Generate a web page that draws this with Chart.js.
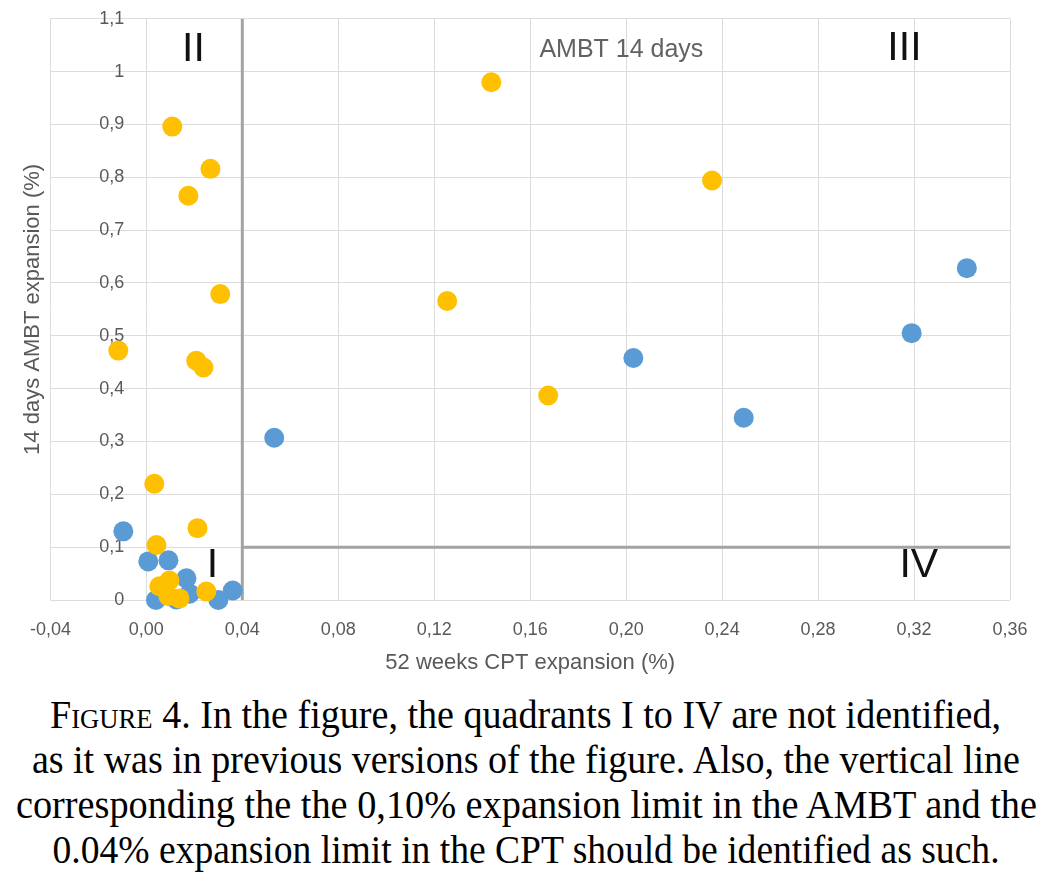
<!DOCTYPE html>
<html>
<head>
<meta charset="utf-8">
<script src="https://cdn.jsdelivr.net/npm/chart.js@4.4.1/dist/chart.umd.min.js"></script>
<style>
  body { margin: 0; background: #fff; width: 1052px; height: 891px; overflow: hidden; position: relative; }
  #wrap { position: absolute; left: 0; top: 0; width: 1052px; height: 690px; }
  #caption { position: absolute; left: 0; top: 692px; width: 1052px;
    font-family: "Liberation Serif", "Times New Roman", serif; font-size: 40px; line-height: 45px; color: #000; }
  #caption .ln { display: flex; justify-content: center; width: 1052px; white-space: nowrap; }
  #caption .ln > span { display: inline-block; flex: none; transform-origin: center; }
  .sc { font-variant: small-caps; }
</style>
</head>
<body>
<div id="wrap"><canvas id="scatterChart"></canvas></div>
<div id="caption">
  <div class="ln"><span data-w="951"><span class="sc">Figure</span> 4. In the figure, the quadrants I to IV are not identified,</span></div>
  <div class="ln"><span data-w="988">as it was in previous versions of the figure. Also, the vertical line</span></div>
  <div class="ln"><span data-w="1021">corresponding the the 0,10% expansion limit in the AMBT and the</span></div>
  <div class="ln"><span data-w="947">0.04% expansion limit in the CPT should be identified as such.</span></div>
</div>
<script>
// data
const blueX = [0.342, 0.319, 0.203, 0.249, 0.0533, -0.0096, 0.0008, 0.0092, 0.0167, 0.018, 0.030, 0.036, 0.004, 0.0125];
const blueY = [0.628, 0.505, 0.458, 0.345, 0.307, 0.130, 0.073, 0.075, 0.041, 0.012, 0.0, 0.018, 0.0, 0.001];

const yellowX = [0.1438, 0.2358, 0.0108, 0.0267, 0.0175, 0.0308, 0.1254, -0.0117, 0.0208, 0.0238, 0.1675, 0.0033, 0.0213, 0.0042, 0.0054, 0.0096, 0.0092, 0.0138, 0.025];
const yellowY = [0.980, 0.794, 0.896, 0.816, 0.765, 0.579, 0.566, 0.472, 0.453, 0.440, 0.387, 0.220, 0.136, 0.104, 0.026, 0.037, 0.007, 0.003, 0.016];

const xTicks = [-0.04, 0, 0.04, 0.08, 0.12, 0.16, 0.20, 0.24, 0.28, 0.32, 0.36];
const yTicks = [0, 0.1, 0.2, 0.3, 0.4, 0.5, 0.6, 0.7, 0.8, 0.9, 1.0, 1.1];

const cptLimit = 0.04;
const ambtLimit = 0.1;

// text inside the plot (value coordinates)
const plotTexts = [
  { text: "II", x: 0.0196, y: 1.041, font: '41px "Liberation Sans"', color: "#111" },
  { text: "III", x: 0.316, y: 1.043, font: '41px "Liberation Sans"', color: "#111" },
  { text: "IV", x: 0.322, y: 0.0656, font: '41px "Liberation Sans"', color: "#111" },
  { text: "I", x: 0.0275, y: 0.0656, font: '41px "Liberation Sans"', color: "#111" },
  { text: "AMBT 14 days", x: 0.198, y: 1.041, font: '25px "Liberation Sans"', color: "#626262" }
];

const toPoints = (xs, ys) => xs.map((x, i) => ({ x: x, y: ys[i] }));
const comma = (s) => s.replace(".", ",");

const textPlugin = {
  id: "plotTexts",
  afterDatasetsDraw(chart) {
    const ctx = chart.ctx;
    const sx = chart.scales.x, sy = chart.scales.y;
    ctx.save();
    ctx.textAlign = "center";
    ctx.textBaseline = "middle";
    plotTexts.forEach(t => {
      ctx.font = t.font;
      ctx.fillStyle = t.color;
      ctx.fillText(t.text, sx.getPixelForValue(t.x), sy.getPixelForValue(t.y));
    });
    ctx.restore();
  }
};

const tickFont = { family: "Liberation Sans", size: 18 };
const titleFont = { family: "Liberation Sans", size: 22 };
const gridColor = "#dcdcdc";
const limitColor = "#a3a3a3";

new Chart(document.getElementById("scatterChart"), {
  type: "scatter",
  data: {
    datasets: [
      {
        label: "Yellow",
        data: toPoints(yellowX, yellowY),
        backgroundColor: "#FFC000",
        borderWidth: 0,
        pointRadius: 10,
        clip: false,
        order: 1
      },
      {
        label: "Blue",
        data: toPoints(blueX, blueY),
        backgroundColor: "#5B9BD5",
        borderWidth: 0,
        pointRadius: 10,
        clip: false,
        order: 2
      },
      {
        type: "line",
        label: "CPT limit",
        data: [{ x: cptLimit, y: yTicks[0] }, { x: cptLimit, y: yTicks[yTicks.length - 1] }],
        borderColor: limitColor,
        borderWidth: 3,
        pointRadius: 0,
        order: 3
      },
      {
        type: "line",
        label: "AMBT limit",
        data: [{ x: cptLimit, y: ambtLimit }, { x: xTicks[xTicks.length - 1], y: ambtLimit }],
        borderColor: limitColor,
        borderWidth: 3,
        pointRadius: 0,
        order: 3
      }
    ]
  },
  options: {
    responsive: true,
    maintainAspectRatio: false,
    animation: false,
    layout: { padding: { left: 20, right: 42, top: 4, bottom: 10 } },
    plugins: { legend: { display: false }, tooltip: { enabled: false } },
    scales: {
      x: {
        type: "linear",
        min: xTicks[0],
        max: xTicks[xTicks.length - 1],
        afterBuildTicks: s => { s.ticks = xTicks.map(v => ({ value: v })); },
        grid: { color: gridColor, drawTicks: false },
        border: { display: false },
        ticks: {
          font: tickFont, color: "#595959", padding: 19, maxRotation: 0, autoSkip: false,
          callback: v => comma(v.toFixed(2))
        },
        title: {
          display: true, text: "52 weeks CPT expansion (%)", color: "#595959",
          font: titleFont, padding: { top: -10, bottom: 4 }
        }
      },
      y: {
        type: "linear",
        // labels sit just left of the x = 0 line, as in the figure
        position: { x: -0.0092 },
        min: yTicks[0],
        max: yTicks[yTicks.length - 1],
        afterBuildTicks: s => { s.ticks = yTicks.map(v => ({ value: v })); },
        grid: { color: gridColor, drawTicks: false },
        border: { display: false },
        ticks: {
          font: tickFont, color: "#595959", autoSkip: false, padding: 8,
          callback: v => comma(String(Number(v.toFixed(1))))
        }
      },
      yTitle: {
        type: "linear",
        position: "left",
        min: 0,
        max: 1,
        grid: { display: false, drawTicks: false },
        border: { display: false },
        ticks: { display: false },
        title: {
          display: true, text: "14 days AMBT expansion (%)", color: "#595959",
          font: titleFont, padding: { top: 0, bottom: 4 }
        }
      }
    }
  },
  plugins: [textPlugin]
});

// squeeze caption lines to the measured widths of the figure
document.querySelectorAll("#caption .ln > span").forEach(el => {
  const w = el.getBoundingClientRect().width;
  el.style.transform = "scaleX(" + (Number(el.dataset.w) / w) + ")";
});
</script>
</body>
</html>
